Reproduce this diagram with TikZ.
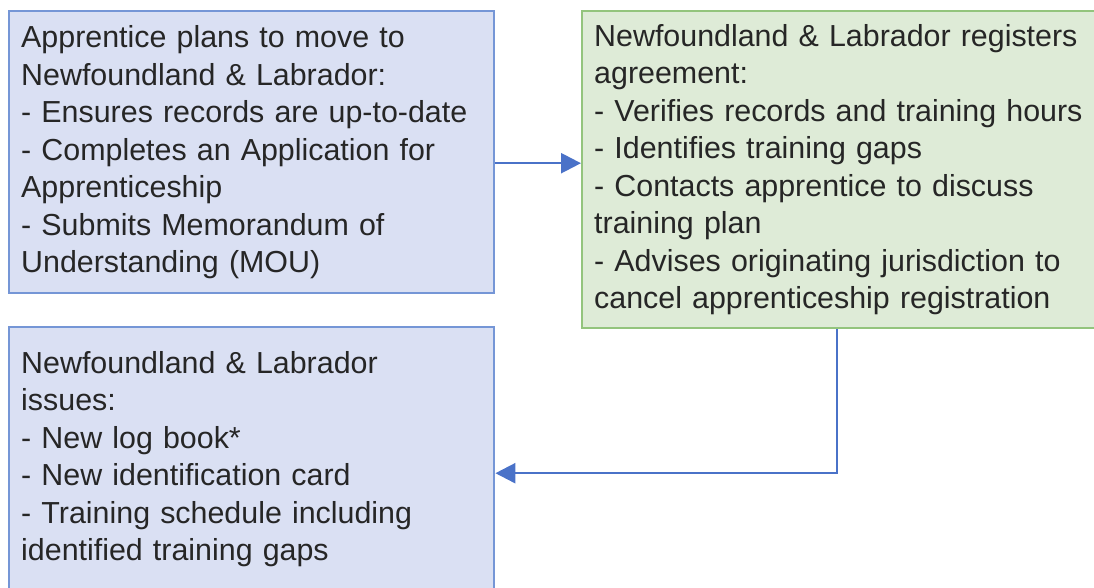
\documentclass[tikz,border=0pt]{standalone}
\usepackage{fontspec}
\setmainfont{Liberation Sans}
\usetikzlibrary{arrows.meta}
\definecolor{bluefill}{HTML}{DAE0F3}
\definecolor{blueline}{HTML}{7596D6}
\definecolor{greenfill}{HTML}{DEEBD7}
\definecolor{greenline}{HTML}{93C47D}
\definecolor{arrowblue}{HTML}{4A72C8}
\definecolor{txt}{HTML}{262626}
\begin{document}
\begin{tikzpicture}[x=1pt,y=-1pt,
 box/.style={rectangle, draw, line width=2.4pt, anchor=north west, align=left,
   inner xsep=11pt, inner ysep=0pt, font=\fontsize{30.4}{37.5}\selectfont, text=txt},
 bluebox/.style={box, fill=bluefill, draw=blueline},
 greenbox/.style={box, fill=greenfill, draw=greenline},
 conn/.style={draw=arrowblue, line width=2.4pt, -{Triangle[length=20pt,width=20pt]}}]
\useasboundingbox (0,0) rectangle (1094,588);
\clip (0,0) rectangle (1094,588);
\node[bluebox, minimum width=485pt, minimum height=282pt, text width=461pt] (b1) at (8,10)
 {Apprentice plans to move to\\
  Newfoundland \& Labrador:\\
  - Ensures records are up-to-date\\
  - Completes an Application for\\
  Apprenticeship\\
  - Submits Memorandum of\\
  Understanding (MOU)};
\node[greenbox, minimum width=700pt, minimum height=317pt, text width=676pt] (b2) at (581,10)
 {Newfoundland \& Labrador registers\\
  agreement:\\
  - Verifies records and training hours\\
  - Identifies training gaps\\
  - Contacts apprentice to discuss\\
  training plan\\
  - Advises originating jurisdiction to\\
  cancel apprenticeship registration};
\node[bluebox, minimum width=485pt, minimum height=264pt, text width=461pt] (b3) at (8,326)
 {Newfoundland \& Labrador\\
  issues:\\
  - New log book*\\
  - New identification card\\
  - Training schedule including\\
  identified training gaps};
\draw[conn] ([yshift=-11pt]b1.east) -- ([yshift=-11pt]b1.east -| b2.west);
\draw[conn] ([xshift=-95pt]b2.south) |- ([yshift=-14pt]b3.east);
\end{tikzpicture}
\end{document}
